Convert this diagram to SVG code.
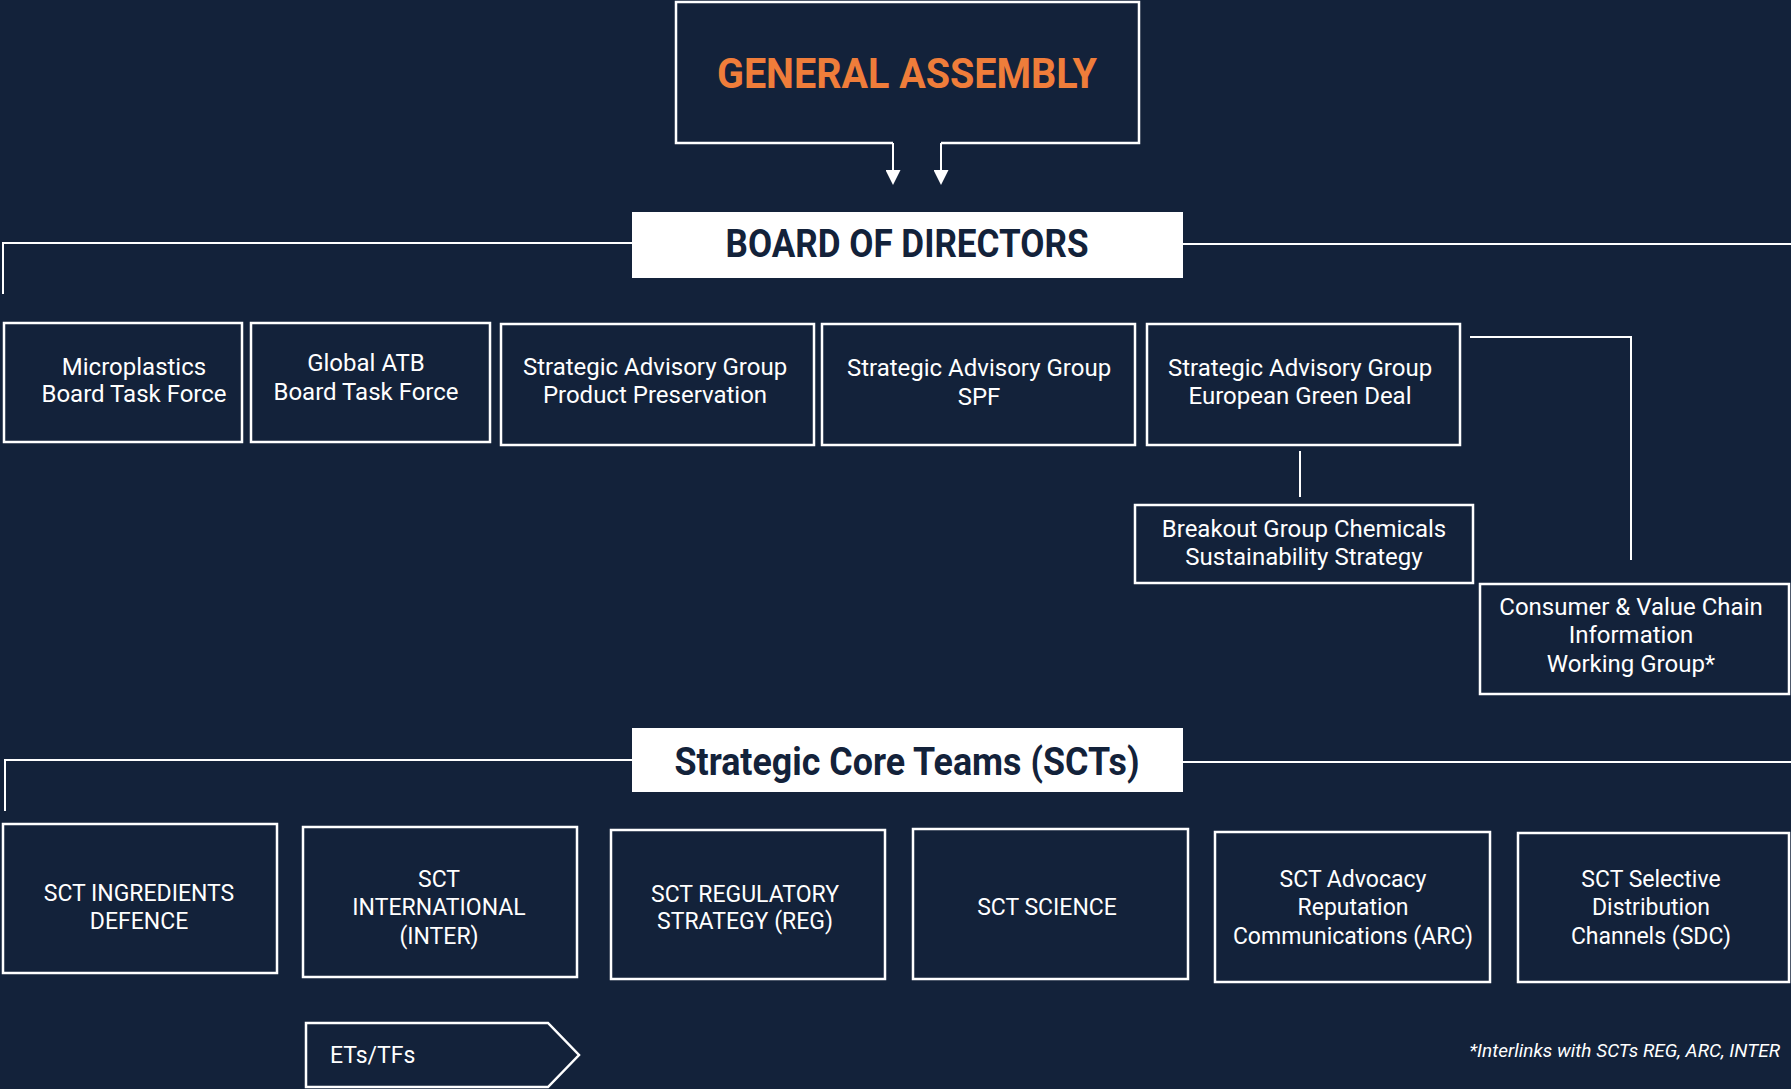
<svg xmlns="http://www.w3.org/2000/svg" width="1791" height="1089" viewBox="0 0 1791 1089">
<defs>
<style>
.box{fill:none;stroke:#ffffff;stroke-width:2.5}
.conn{fill:none;stroke:#ffffff;stroke-width:2}
.t{font-family:Roboto,"Liberation Sans",sans-serif;font-size:23px;fill:#ffffff;text-anchor:middle}
.t24{font-size:24px}
.h{font-family:Roboto,"Liberation Sans",sans-serif;font-weight:700;text-anchor:middle}
.note{font-family:Roboto,"Liberation Sans",sans-serif;font-style:italic;font-size:19px;fill:#ffffff;text-anchor:end}
</style>
<marker id="arrow" viewBox="0 0 10 10" refX="6.7" refY="5" markerWidth="15" markerHeight="15" markerUnits="userSpaceOnUse" orient="auto">
<path d="M0,0 L10,5 L0,10 z" fill="#ffffff"/>
</marker>
</defs>
<rect x="0" y="0" width="1791" height="1089" fill="#13223a"/>

<g id="connectors">
<path class="conn" d="M893,143 V180" marker-end="url(#arrow)"/>
<path class="conn" d="M941,143 V180" marker-end="url(#arrow)"/>
<path class="conn" d="M632,243 H3 V294"/>
<path class="conn" d="M1183,244 H1791"/>
<path class="conn" d="M1300,451 V497"/>
<path class="conn" d="M1470,337 H1631 V560"/>
<path class="conn" d="M632,760 H5 V811"/>
<path class="conn" d="M1183,762 H1791"/>
</g>

<g id="general-assembly">
<path class="box" d="M893,143 H676 V2 H1139 V143 H941"/>
<text class="h" x="907" y="88" font-size="42" fill="#ef7d3a" textLength="380" lengthAdjust="spacingAndGlyphs">GENERAL ASSEMBLY</text>
</g>

<g id="board-of-directors">
<rect x="632" y="212" width="551" height="66" fill="#ffffff"/>
<text class="h" x="907" y="257" font-size="38" fill="#13223a" textLength="363" lengthAdjust="spacingAndGlyphs">BOARD OF DIRECTORS</text>
</g>

<g id="microplastics">
<rect class="box" x="4" y="323" width="238" height="119"/>
<text class="t t24" x="134" y="375">Microplastics</text>
<text class="t t24" x="134" y="402">Board Task Force</text>
</g>

<g id="global-atb">
<rect class="box" x="251" y="323" width="239" height="119"/>
<text class="t t24" x="366" y="371">Global ATB</text>
<text class="t t24" x="366" y="400">Board Task Force</text>
</g>

<g id="sag-pp">
<rect class="box" x="501" y="324" width="313" height="121"/>
<text class="t t24" x="655" y="375">Strategic Advisory Group</text>
<text class="t t24" x="655" y="403">Product Preservation</text>
</g>

<g id="sag-spf">
<rect class="box" x="822" y="324" width="313" height="121"/>
<text class="t t24" x="979" y="376">Strategic Advisory Group</text>
<text class="t t24" x="979" y="405">SPF</text>
</g>

<g id="sag-egd">
<rect class="box" x="1147" y="324" width="313" height="121"/>
<text class="t t24" x="1300" y="376">Strategic Advisory Group</text>
<text class="t t24" x="1300" y="404">European Green Deal</text>
</g>

<g id="breakout">
<rect class="box" x="1135" y="505" width="338" height="78"/>
<text class="t t24" x="1304" y="537">Breakout Group Chemicals</text>
<text class="t t24" x="1304" y="565">Sustainability Strategy</text>
</g>

<g id="consumer">
<rect class="box" x="1480" y="584" width="309" height="110"/>
<text class="t t24" x="1631" y="615">Consumer &amp; Value Chain</text>
<text class="t t24" x="1631" y="643">Information</text>
<text class="t t24" x="1631" y="672">Working Group*</text>
</g>

<g id="sct-heading">
<rect x="632" y="728" width="551" height="64" fill="#ffffff"/>
<text class="h" x="907" y="775" font-size="38" fill="#13223a" textLength="465" lengthAdjust="spacingAndGlyphs">Strategic Core Teams (SCTs)</text>
</g>

<g id="sct-ingredients">
<rect class="box" x="3" y="824" width="274" height="149"/>
<text class="t" x="139" y="901">SCT INGREDIENTS</text>
<text class="t" x="139" y="929">DEFENCE</text>
</g>

<g id="sct-international">
<rect class="box" x="303" y="827" width="274" height="150"/>
<text class="t" x="439" y="887">SCT</text>
<text class="t" x="439" y="915">INTERNATIONAL</text>
<text class="t" x="439" y="944">(INTER)</text>
</g>

<g id="sct-regulatory">
<rect class="box" x="611" y="830" width="274" height="149"/>
<text class="t" x="745" y="902">SCT REGULATORY</text>
<text class="t" x="745" y="929">STRATEGY (REG)</text>
</g>

<g id="sct-science">
<rect class="box" x="913" y="829" width="275" height="150"/>
<text class="t" x="1047" y="915">SCT SCIENCE</text>
</g>

<g id="sct-advocacy">
<rect class="box" x="1215" y="832" width="275" height="150"/>
<text class="t" x="1353" y="887">SCT Advocacy</text>
<text class="t" x="1353" y="915">Reputation</text>
<text class="t" x="1353" y="944">Communications (ARC)</text>
</g>

<g id="sct-selective">
<rect class="box" x="1518" y="833" width="271" height="149"/>
<text class="t" x="1651" y="887">SCT Selective</text>
<text class="t" x="1651" y="915">Distribution</text>
<text class="t" x="1651" y="944">Channels (SDC)</text>
</g>

<g id="ets-tfs">
<path class="box" d="M306,1023 H548 L579,1055 L548,1087 H306 Z"/>
<text class="t" x="330" y="1063" style="text-anchor:start">ETs/TFs</text>
</g>

<text class="note" x="1780" y="1057">*Interlinks with SCTs REG, ARC, INTER</text>
</svg>
